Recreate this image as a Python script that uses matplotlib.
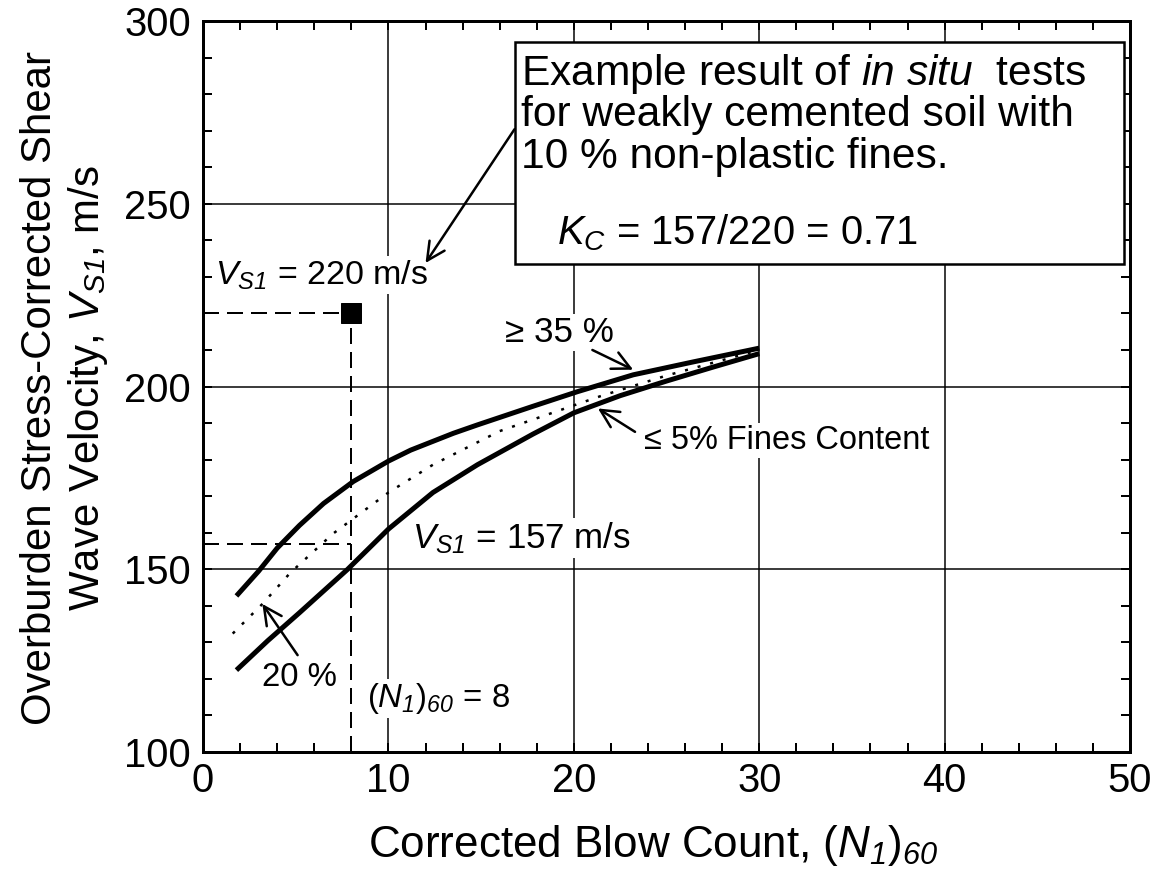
import matplotlib
matplotlib.use("Agg")
import matplotlib.pyplot as plt
from matplotlib.patches import Rectangle
from matplotlib.ticker import MultipleLocator

plt.rcParams['font.family'] = 'Liberation Sans'
plt.rcParams['mathtext.fontset'] = 'custom'
plt.rcParams['mathtext.rm'] = 'Liberation Sans'
plt.rcParams['mathtext.it'] = 'Liberation Sans:italic'
# sf slot used for italic digits in subscripts (the 'it' slot keeps digits upright)
plt.rcParams['mathtext.sf'] = 'Liberation Sans:italic'
plt.rcParams['mathtext.bf'] = 'Liberation Sans:bold'

# curves: >=35 % fines (upper), <=5 % fines (lower), 20 % fines (dotted)
upper_n = [1.8, 3.0, 4.0, 5.2, 6.5, 8.1, 10.0, 11.2, 12.4, 13.5, 14.8, 17.8, 20.2, 23.2, 26.5, 30.0]
upper_vs = [142.7, 149.5, 155.8, 162.0, 168.0, 174.0, 179.6, 182.6, 185.0, 187.2, 189.5, 194.6, 198.6, 203.2, 206.8, 210.5]

lower_n = [1.8, 3.5, 5.2, 7.8, 10.0, 12.4, 14.8, 17.8, 20.0, 22.5, 25.0, 27.5, 30.0]
lower_vs = [122.4, 130.5, 138.1, 150.0, 161.0, 171.0, 178.6, 187.0, 192.8, 197.5, 201.5, 205.3, 209.0]

mid_n = [1.6, 3.2, 4.7, 7.0, 10.0, 12.4, 16.0, 21.4, 25.0, 30.0]
mid_vs = [132.4, 140.5, 149.0, 159.7, 171.0, 178.6, 187.8, 197.3, 203.0, 210.0]

# example in situ result
n_test = 8
vs_test = 220
vs_curve = 157

fig = plt.figure(figsize=(1159 / 72, 873 / 72), dpi=72)
ax = fig.add_axes([0.1752, 0.1386, 0.7998, 0.8373])

ax.set_xlim(0, 50)
ax.set_ylim(100, 300)
ax.xaxis.set_major_locator(MultipleLocator(10))
ax.xaxis.set_minor_locator(MultipleLocator(2))
ax.yaxis.set_major_locator(MultipleLocator(50))
ax.yaxis.set_minor_locator(MultipleLocator(10))
ax.tick_params(which='both', direction='in', top=True, right=True,
               length=9, width=2, labelsize=40, color='black')
ax.tick_params(axis='x', pad=10)
ax.tick_params(axis='y', pad=12)
for s in ax.spines.values():
    s.set_linewidth(3)
ax.set_axisbelow(True)
ax.grid(True, which='major', color='black', lw=1.5)

# fines content curves
ax.plot(upper_n, upper_vs, color='black', lw=5, solid_capstyle='butt',
        solid_joinstyle='round', zorder=5)
ax.plot(lower_n, lower_vs, color='black', lw=5, solid_capstyle='butt',
        solid_joinstyle='round', zorder=5)
ax.plot(mid_n, mid_vs, color='black', lw=2.5, linestyle=(0, (1.2, 4)), zorder=5)

# measured point and dashed guides
dash = (0, (8, 4))
ax.plot([0, n_test], [vs_test, vs_test], color='black', lw=2, linestyle=dash, zorder=5)
ax.plot([n_test, n_test], [100, vs_test], color='black', lw=2, linestyle=dash, zorder=5)
ax.plot([0, n_test], [vs_curve, vs_curve], color='black', lw=2, linestyle=dash, zorder=5)
ax.plot([n_test], [vs_test], marker='s', ms=20, color='black', zorder=6)

wb = dict(facecolor='white', edgecolor='none', pad=2)
ax.text(0.65, 228.0, r'$V_{\mathsf{S1}}$ = 220 m/s', fontsize=34, bbox=wb, zorder=4)
ax.text(11.27, 155.7, r'$V_{\mathsf{S1}}$ = 157 m/s', fontsize=35, bbox=wb, zorder=4)
ax.text(8.85, 112.2, r'$(N_{\mathsf{1}})_{\mathsf{60}}$ = 8', fontsize=33, bbox=wb, zorder=4)
ax.text(3.18, 118.1, '20 %', fontsize=33, zorder=4)
ax.text(16.3, 212.2, '≥ 35 %', fontsize=35, bbox=wb, zorder=4)
ax.text(23.8, 183.0, '≤ 5% Fines Content', fontsize=32.5, bbox=wb, zorder=4)

arrow = dict(arrowstyle='->,head_length=0.6,head_width=0.3', lw=2.5, color='black',
             shrinkA=0, shrinkB=0, mutation_scale=30)
ax.annotate('', xy=(3.2, 140.5), xytext=(5.1, 126.5), arrowprops=arrow, zorder=6)
ax.annotate('', xy=(23.2, 204.6), xytext=(21.0, 210.0), arrowprops=arrow, zorder=6)
ax.annotate('', xy=(21.3, 194.0), xytext=(23.3, 187.6), arrowprops=arrow, zorder=6)
ax.annotate('', xy=(12.0, 233.8), xytext=(16.8, 270.4), arrowprops=arrow, zorder=6)

# note box
box = Rectangle((16.8, 233.5), 49.7 - 16.8, 294.3 - 233.5, facecolor='white',
                edgecolor='black', lw=2.5, zorder=4)
ax.add_patch(box)
ax.text(17.15, 282.5, r'Example result of $\mathit{in\ situ}$  tests', fontsize=42.5, zorder=7)
ax.text(17.15, 271.3, 'for weakly cemented soil with', fontsize=42.5, zorder=7)
ax.text(17.15, 259.8, '10 % non-plastic fines.', fontsize=42.5, zorder=7)
ax.text(19.1, 239.0, r'$K_C$ = 157/220 = 0.71', fontsize=40, zorder=7)

# axis titles
fig.text(653 / 1159, 1 - 857 / 873, r'Corrected Blow Count, $(N_{\mathsf{1}})_{\mathsf{60}}$',
         fontsize=44, ha='center', va='baseline')
fig.text(40 / 1159, 1 - 388 / 873, 'Overburden Stress-Corrected Shear',
         fontsize=42, rotation=90, ha='center', va='center')
fig.text(88 / 1159, 1 - 388 / 873, r'Wave Velocity, $V_{\mathsf{S1}}$, m/s',
         fontsize=42, rotation=90, ha='center', va='center')

fig.savefig('out.png', dpi=72)
